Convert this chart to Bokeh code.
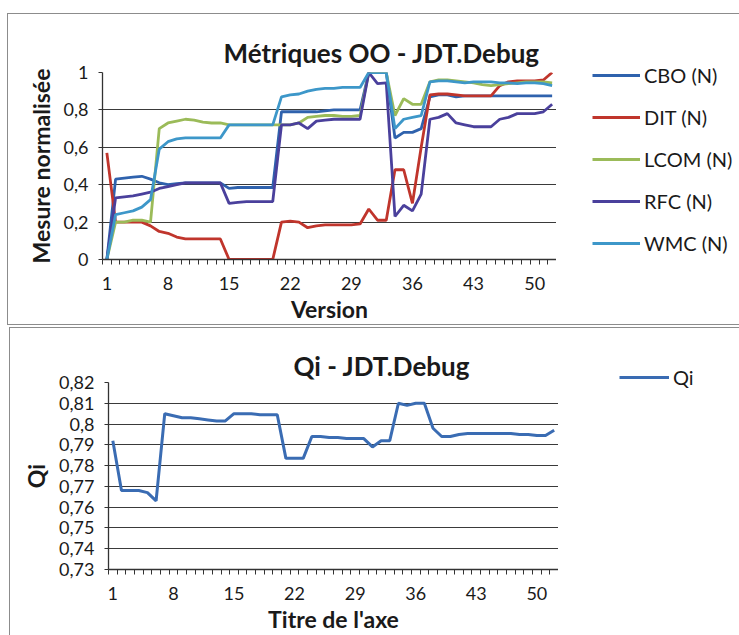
from bokeh.plotting import figure
from bokeh.layouts import column, row
from bokeh.models import (FixedTicker, CustomJSTickFormatter, Legend, LegendItem,
                          Range1d)
from bokeh.embed import file_html
from bokeh.resources import INLINE

versions = list(range(1, 53))
x_tick_labels = [1, 8, 15, 22, 29, 36, 43, 50]

cbo = [0.0, 0.43, 0.435, 0.44, 0.445, 0.43, 0.41, 0.40, 0.405, 0.41,
       0.41, 0.41, 0.41, 0.41, 0.38, 0.385, 0.385, 0.385, 0.385, 0.385,
       0.79, 0.79, 0.79, 0.79, 0.79, 0.795, 0.80, 0.80, 0.80, 0.80,
       1.0, 1.0, 1.0, 0.65, 0.68, 0.68, 0.70, 0.87, 0.88, 0.88,
       0.87, 0.875, 0.875, 0.875, 0.875, 0.875, 0.875, 0.875, 0.875, 0.875,
       0.875, 0.875]
dit = [0.57, 0.20, 0.20, 0.20, 0.20, 0.18, 0.15, 0.14, 0.12, 0.11,
       0.11, 0.11, 0.11, 0.11, 0.0, 0.0, 0.0, 0.0, 0.0, 0.0,
       0.20, 0.205, 0.20, 0.17, 0.18, 0.185, 0.185, 0.185, 0.185, 0.19,
       0.27, 0.21, 0.21, 0.48, 0.48, 0.30, 0.60, 0.88, 0.885, 0.885,
       0.88, 0.875, 0.875, 0.875, 0.875, 0.93, 0.95, 0.955, 0.955, 0.955,
       0.96, 1.0]
lcom = [0.0, 0.20, 0.20, 0.21, 0.21, 0.20, 0.70, 0.73, 0.74, 0.75,
        0.745, 0.735, 0.73, 0.73, 0.72, 0.72, 0.72, 0.72, 0.72, 0.72,
        0.72, 0.72, 0.73, 0.76, 0.765, 0.77, 0.77, 0.765, 0.765, 0.77,
        1.0, 1.0, 1.0, 0.77, 0.86, 0.83, 0.83, 0.95, 0.96, 0.96,
        0.955, 0.95, 0.945, 0.935, 0.93, 0.935, 0.94, 0.945, 0.95, 0.95,
        0.95, 0.945]
rfc = [0.0, 0.33, 0.335, 0.34, 0.35, 0.36, 0.38, 0.39, 0.40, 0.41,
       0.41, 0.41, 0.41, 0.41, 0.30, 0.305, 0.31, 0.31, 0.31, 0.31,
       0.72, 0.72, 0.73, 0.70, 0.74, 0.745, 0.75, 0.75, 0.75, 0.75,
       1.0, 0.94, 0.945, 0.23, 0.29, 0.26, 0.35, 0.75, 0.76, 0.78,
       0.73, 0.72, 0.71, 0.71, 0.71, 0.75, 0.76, 0.78, 0.78, 0.78,
       0.79, 0.83]
wmc = [0.0, 0.24, 0.25, 0.26, 0.28, 0.32, 0.59, 0.63, 0.645, 0.65,
       0.65, 0.65, 0.65, 0.65, 0.72, 0.72, 0.72, 0.72, 0.72, 0.72,
       0.87, 0.88, 0.885, 0.90, 0.91, 0.915, 0.915, 0.92, 0.92, 0.92,
       1.0, 1.0, 1.0, 0.70, 0.75, 0.76, 0.77, 0.95, 0.955, 0.955,
       0.95, 0.945, 0.95, 0.95, 0.95, 0.945, 0.945, 0.94, 0.945, 0.945,
       0.94, 0.93]
qi = [0.792, 0.768, 0.768, 0.768, 0.767, 0.763, 0.805, 0.804, 0.803, 0.803,
      0.8025, 0.802, 0.8015, 0.8015, 0.805, 0.805, 0.805, 0.8045, 0.8045, 0.8045,
      0.7835, 0.7835, 0.7835, 0.794, 0.794, 0.7935, 0.7935, 0.793, 0.793, 0.793,
      0.789, 0.792, 0.792, 0.810, 0.809, 0.810, 0.810, 0.798, 0.794, 0.794,
      0.795, 0.7955, 0.7955, 0.7955, 0.7955, 0.7955, 0.7955, 0.795, 0.795, 0.7945,
      0.7945, 0.797]

top_series = [("CBO (N)", cbo, "#2f62ad"),
              ("DIT (N)", dit, "#c0352c"),
              ("LCOM (N)", lcom, "#9bbb59"),
              ("RFC (N)", rfc, "#4a409c"),
              ("WMC (N)", wmc, "#3d97c9")]

FONT = "Lato"
GRID = "#3a3a3a"
TXT = "#1a1a1a"
BORDER = "1.5px solid #8c8c8c"
fmt = CustomJSTickFormatter(
    code="return parseFloat(tick.toFixed(2)).toString().replace('.', ',');")


def border_css(left, top, sides):
    rules = " ".join(f"border-{s}: {BORDER};" for s in sides)
    return [":host::after { content: ''; position: absolute; "
            f"left: {left}px; top: {top}px; right: 0px; bottom: 0px; {rules} "
            "pointer-events: none; z-index: 10; }"]


def style(p, yticks):
    p.outline_line_color = None
    p.background_fill_color = "white"
    p.border_fill_color = "white"
    p.xgrid.visible = False
    p.ygrid.grid_line_color = GRID
    p.ygrid.grid_line_width = 1.2
    p.xaxis.ticker = FixedTicker(ticks=x_tick_labels,
                                 minor_ticks=[v + 0.5 for v in range(0, 53)])
    p.yaxis.ticker = FixedTicker(ticks=yticks, minor_ticks=[])
    p.yaxis.formatter = fmt
    for ax in (p.xaxis[0], p.yaxis[0]):
        ax.axis_line_color = "#333333"
        ax.axis_line_width = 1.3
        ax.major_label_text_font = FONT
        ax.major_label_text_font_size = "18px"
        ax.major_label_text_color = TXT
        ax.axis_label_text_font = FONT
        ax.axis_label_text_font_style = "bold"
        ax.axis_label_text_font_size = "23px"
        ax.axis_label_text_color = TXT
    p.xaxis.major_tick_out = 0
    p.xaxis.major_tick_in = 0
    p.xaxis.minor_tick_out = 5
    p.xaxis.minor_tick_in = 0
    p.xaxis.minor_tick_line_color = "#333333"
    p.xaxis.major_label_standoff = 12
    p.xaxis.axis_label_standoff = 2
    p.yaxis.major_tick_out = 4
    p.yaxis.major_tick_in = 0
    p.yaxis.major_tick_line_color = "#333333"
    p.yaxis.major_label_standoff = 10
    p.yaxis.axis_label_standoff = 6
    p.title.text_font = FONT
    p.title.text_font_style = "bold"
    p.title.text_font_size = "26px"
    p.title.text_color = TXT
    p.title.align = "left"


def legend_fig(w, h, entries, loc, gw, spacing, css):
    f = figure(width=w, height=h, output_backend="svg", toolbar_location=None,
               x_range=Range1d(0, 1), y_range=Range1d(0, 1),
               x_axis_type=None, y_axis_type=None, frame_align=False,
               min_border=0, min_border_left=0, min_border_right=0,
               min_border_top=0, min_border_bottom=0, stylesheets=css)
    f.grid.visible = False
    f.outline_line_color = None
    f.background_fill_color = "white"
    f.border_fill_color = "white"
    its = []
    for name, col, lw in entries:
        # sample line kept outside the visible range: only its legend glyph shows
        r = f.line([-5, -4], [-5, -5], line_color=col, line_width=lw)
        its.append(LegendItem(label=name, renderers=[r]))
    f.add_layout(Legend(items=its, location=loc, padding=0, margin=0,
                        spacing=spacing, glyph_width=gw, glyph_height=24,
                        label_height=24, label_standoff=4,
                        background_fill_alpha=0, border_line_alpha=0,
                        label_text_font=FONT, label_text_font_size="20px",
                        label_text_color=TXT), "center")
    return f


# ---- top panel ----
p1 = figure(width=556, height=325, output_backend="svg", toolbar_location=None,
            x_range=Range1d(0.5, 52.5), y_range=Range1d(0, 1),
            title="Métriques OO - JDT.Debug", frame_align=False,
            min_border_left=102, min_border_right=0,
            min_border_top=72, min_border_bottom=65,
            stylesheets=border_css(7, 13, ["top", "left", "bottom"]))
style(p1, [0, 0.2, 0.4, 0.6, 0.8, 1.0])
p1.xaxis.axis_label = "Version"
p1.yaxis.axis_label = "Mesure normalisée"
p1.title.offset = 121
p1.title.standoff = 7

for name, vals, col in top_series:
    p1.line(versions, vals, line_color=col, line_width=2.8)

leg1 = legend_fig(183, 325, [(n, c, 2.8) for n, _, c in top_series],
                  (36, 70), 48, 18,
                  [":host::after { content: ''; position: absolute; "
                   "left: -2px; top: 13px; right: 0px; bottom: 0px; "
                   f"border-top: {BORDER}; border-bottom: {BORDER}; "
                   "pointer-events: none; z-index: 10; }"])

# ---- bottom panel ----
p2 = figure(width=558, height=310, output_backend="svg", toolbar_location=None,
            x_range=Range1d(0.5, 52.5), y_range=Range1d(0.73, 0.82),
            title="Qi - JDT.Debug", frame_align=False,
            min_border_left=108, min_border_right=0,
            min_border_top=57, min_border_bottom=63,
            stylesheets=border_css(9, 2, ["top", "left"]))
style(p2, [0.73 + 0.01 * i for i in range(10)])
p2.xaxis.axis_label = "Titre de l'axe"
p2.yaxis.axis_label = "Qi"
p2.title.offset = 185
p2.title.standoff = 2
p2.line(versions, qi, line_color="#3a6cb3", line_width=3)

leg2 = legend_fig(181, 310, [("Qi", "#3a6cb3", 3)], (61, 246), 50, 0,
                  [":host::after { content: ''; position: absolute; "
                   "left: -2px; top: 2px; right: 0px; bottom: 0px; "
                   f"border-top: {BORDER}; "
                   "pointer-events: none; z-index: 10; }"])

layout = column(row(p1, leg1, spacing=0), row(p2, leg2, spacing=0), spacing=0)
open("out.html", "w").write(file_html(layout, INLINE))
